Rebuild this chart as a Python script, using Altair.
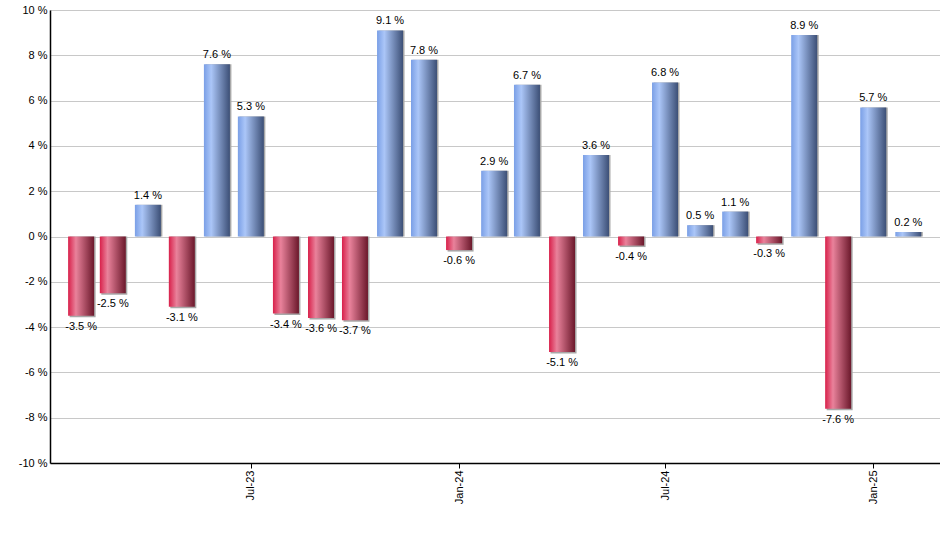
import altair as alt
import pandas as pd

months = ["2023-02", "2023-03", "2023-04", "2023-05", "2023-06", "2023-07",
          "2023-08", "2023-09", "2023-10", "2023-11", "2023-12", "2024-01",
          "2024-02", "2024-03", "2024-04", "2024-05", "2024-06", "2024-07",
          "2024-08", "2024-09", "2024-10", "2024-11", "2024-12", "2025-01",
          "2025-02"]
returns = [-3.5, -2.5, 1.4, -3.1, 7.6, 5.3, -3.4, -3.6, -3.7, 9.1, 7.8, -0.6,
           2.9, 6.7, -5.1, 3.6, -0.4, 6.8, 0.5, 1.1, -0.3, 8.9, -7.6, 5.7, 0.2]
tick_months = [(2023, 7), (2024, 1), (2024, 7), (2025, 1)]
y_ticks = list(range(-10, 11, 2))

df = pd.DataFrame({
    "date": [m + "-01" for m in months],
    "v": returns,
    "label": [f"{v:.1f} %" for v in returns],
})

FONT = "Liberation Sans"

x_enc = alt.X(
    "date:T",
    scale=alt.Scale(
        type="utc", nice=False, padding=0,
        domain=[alt.DateTime(year=2023, month=1, date=4, hours=12, utc=True),
                alt.DateTime(year=2025, month=3, date=1, utc=True)],
    ),
    axis=alt.Axis(
        values=[alt.DateTime(year=y, month=m, date=1, utc=True) for y, m in tick_months],
        labelExpr="utcFormat(datum.value, '%b-%y')", labelAngle=-90, title=None, grid=False,
        tickSize=5, tickColor="black", domainColor="black", domainWidth=1.5,
        labelFontSize=11, labelFont=FONT, labelColor="black", labelPadding=2,
    ),
)
y_enc = alt.Y(
    "v:Q",
    scale=alt.Scale(domain=[-10, 10], nice=False, zero=False),
    axis=alt.Axis(
        values=y_ticks, labelExpr="datum.value + ' %'", title=None, ticks=False,
        gridColor="#c8c8c8", gridWidth=1, domainColor="black", domainWidth=1.5,
        labelFontSize=11, labelFont=FONT, labelColor="black", labelPadding=3,
    ),
)

blue = alt.LinearGradient(
    gradient="linear", x1=0, x2=1, y1=0, y2=0,
    stops=[alt.GradientStop(offset=0, color="#7a9fe6"),
           alt.GradientStop(offset=0.28, color="#abc6f8"),
           alt.GradientStop(offset=1, color="#3c4f76")],
)
red = alt.LinearGradient(
    gradient="linear", x1=0, x2=1, y1=0, y2=0,
    stops=[alt.GradientStop(offset=0, color="#d8204a"),
           alt.GradientStop(offset=0.3, color="#e9829b"),
           alt.GradientStop(offset=1, color="#6b182b")],
)

base = alt.Chart(df).encode(x=x_enc)
pos = base.transform_filter("datum.v >= 0")
neg = base.transform_filter("datum.v < 0")

pos_shadow = pos.mark_bar(width=26, color="#a8a8a8", xOffset=1.5).encode(y=y_enc, y2=alt.datum(0))
neg_shadow = neg.mark_bar(width=26, color="#a8a8a8", xOffset=1.5, yOffset=1.5).encode(y=y_enc, y2=alt.datum(0))
pos_bar = pos.mark_bar(width=26, color=blue).encode(y=y_enc, y2=alt.datum(0))
neg_bar = neg.mark_bar(width=26, color=red).encode(y=y_enc, y2=alt.datum(0))
pos_txt = pos.mark_text(baseline="alphabetic", dy=-6, fontSize=11, font=FONT, color="black").encode(
    y=y_enc, text="label:N")
neg_txt = neg.mark_text(baseline="top", dy=5, fontSize=11, font=FONT, color="black").encode(
    y=y_enc, text="label:N")

chart = alt.layer(pos_shadow, neg_shadow, pos_bar, neg_bar, pos_txt, neg_txt).properties(
    width=890, height=453,
    autosize=alt.AutoSizeParams(type="none"),
    padding={"left": 50, "top": 10, "right": 0, "bottom": 87},
).configure_view(strokeWidth=0).configure(background="white")

chart.save("out.html", embed_options={"renderer": "svg", "actions": False})
